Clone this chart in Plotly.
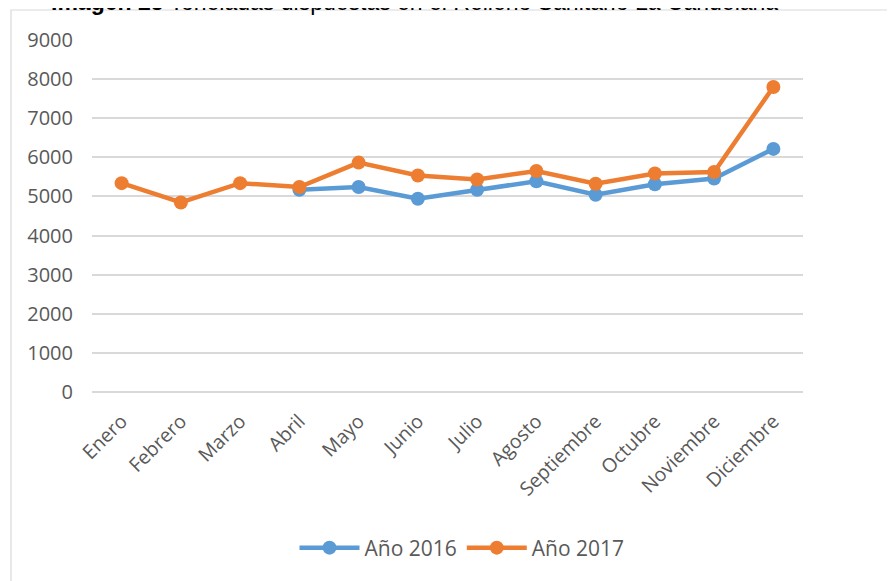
import plotly.graph_objects as go

meses = ["Enero", "Febrero", "Marzo", "Abril", "Mayo", "Junio", "Julio",
         "Agosto", "Septiembre", "Octubre", "Noviembre", "Diciembre"]
anio_2016 = [None, None, None, 5170, 5240, 4940, 5170, 5390, 5045, 5310, 5460, 6215]
anio_2017 = [5340, 4847, 5340, 5240, 5865, 5535, 5435, 5650, 5325, 5585, 5625, 7800]
y_ticks = [0, 1000, 2000, 3000, 4000, 5000, 6000, 7000, 8000, 9000]

OFF = 8  # page body margin
W, H = 895 - OFF, 581 - OFF
# plot area in window pixels: left 92, right 803, top 40, bottom 392
L = 92 - OFF
T = 40 - OFF
R = W - (803 - OFF)
B = H - (392 - OFF)
pw, ph = W - L - R, H - T - B

def px_x(p):
    return (p - OFF - L) / pw

def px_y(p):
    return (392 - p) / ph

fig = go.Figure()
fig.add_trace(go.Scatter(x=meses, y=anio_2016, name="Año 2016", mode="lines+markers",
                         line=dict(color="#5B9BD5", width=4.5),
                         marker=dict(color="#5B9BD5", size=14)))
fig.add_trace(go.Scatter(x=meses, y=anio_2017, name="Año 2017", mode="lines+markers",
                         line=dict(color="#ED7D31", width=4.5),
                         marker=dict(color="#ED7D31", size=14)))

fig.update_layout(
    width=W, height=H,
    margin=dict(l=L, r=R, t=T, b=B),
    paper_bgcolor="white", plot_bgcolor="white",
    font=dict(family="Open Sans, Arial, sans-serif", color="#595959", size=17),
    showlegend=True,
    legend=dict(orientation="h", x=px_x(462), xanchor="center", y=px_y(548), yanchor="middle",
                font=dict(size=21, color="#595959"), itemwidth=60),
    xaxis=dict(type="category", range=[-0.5, len(meses) - 0.5], tickangle=-45,
               showgrid=False, showline=False,
               ticks="", tickfont=dict(size=19.5, color="#595959"), ticklabelstandoff=13),
    yaxis=dict(range=[0, 9000], tickvals=y_ticks, showgrid=True, gridcolor="#D9D9D9",
               gridwidth=1.5, zeroline=True, zerolinecolor="#D9D9D9", zerolinewidth=1.5,
               showline=False, ticks="", tickfont=dict(size=20, color="#595959"),
               ticklabelstandoff=18),
    shapes=[dict(type="rect", xref="paper", yref="paper",
                 x0=px_x(11), x1=px_x(905), y0=px_y(600), y1=px_y(10),
                 line=dict(color="#D9D9D9", width=1.2), fillcolor="rgba(0,0,0,0)",
                 layer="below")],
    annotations=[dict(text="<b>Imagen 25</b> Toneladas dispuestas en el Relleno Sanitario La Candelaria",
                      xref="paper", yref="paper", x=px_x(414), y=px_y(2),
                      xanchor="center", yanchor="middle", showarrow=False,
                      font=dict(family="Liberation Sans, Arial, sans-serif", size=23, color="black"))],
)

fig.write_html("out.html")
